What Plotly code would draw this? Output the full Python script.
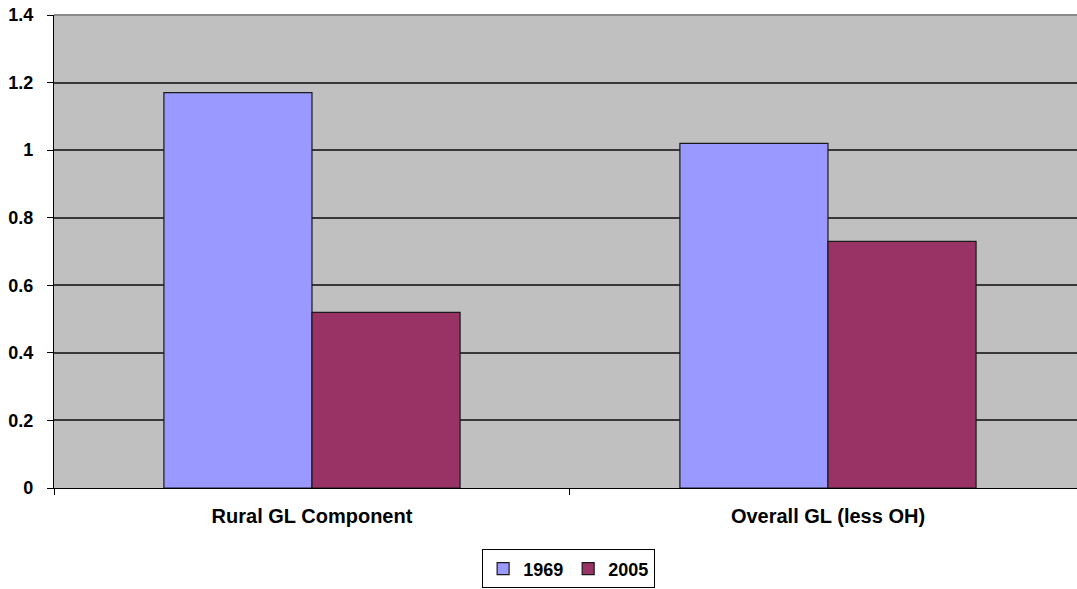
import plotly.graph_objects as go

# Chart data
categories = ["Rural GL Component", "Overall GL (less OH)"]
series_names = ["1969", "2005"]
values_1969 = [1.17, 1.02]
values_2005 = [0.52, 0.73]
y_ticks = [0, 0.2, 0.4, 0.6, 0.8, 1, 1.2, 1.4]
y_tick_labels = ["0", "0.2", "0.4", "0.6", "0.8", "1", "1.2", "1.4"]

colors = {"1969": "#9999FF", "2005": "#993366"}
font_family = "Liberation Sans, Arial, sans-serif"

fig = go.Figure()
for name, vals in zip(series_names, [values_1969, values_2005]):
    fig.add_trace(go.Bar(
        x=categories,
        y=vals,
        name=name,
        marker=dict(color=colors[name], line=dict(color="#1a1a1a", width=1.2)),
    ))

fig.update_layout(
    width=1077,
    height=589,
    margin=dict(l=54, r=0, t=15, b=97),
    paper_bgcolor="white",
    plot_bgcolor="#C0C0C0",
    barmode="group",
    bargap=0.426,
    bargroupgap=0,
    font=dict(family=font_family, color="black"),
    showlegend=True,
    legend=dict(
        orientation="h",
        x=0.4185, xanchor="left",
        y=-0.13, yanchor="top",
        bordercolor="black",
        borderwidth=1,
        bgcolor="white",
        font=dict(size=18, weight="bold", family=font_family),
        itemwidth=30,
    ),
)

fig.update_xaxes(
    type="category",
    range=[-0.5, 1.4826],
    showline=True,
    linecolor="black",
    linewidth=1.2,
    ticks="outside",
    tickson="boundaries",
    ticklen=6,
    tickcolor="black",
    showgrid=False,
    tickfont=dict(size=20, weight="bold", family=font_family),
    ticklabelstandoff=10,
    fixedrange=True,
)

fig.update_yaxes(
    range=[0, 1.4],
    tickvals=y_ticks,
    ticktext=y_tick_labels,
    showline=True,
    linecolor="black",
    linewidth=1.2,
    ticks="outside",
    ticklen=6,
    tickcolor="black",
    showgrid=True,
    gridcolor="#383838",
    gridwidth=1.5,
    zeroline=False,
    tickfont=dict(size=18, weight="bold", family=font_family),
    ticklabelstandoff=10,
    fixedrange=True,
)

# Lighter border along the top of the plot area
fig.add_shape(
    type="line", xref="paper", yref="paper",
    x0=0, x1=1, y0=1, y1=1,
    line=dict(color="#8a8a8a", width=2),
    layer="above",
)

fig.write_html("out.html")
